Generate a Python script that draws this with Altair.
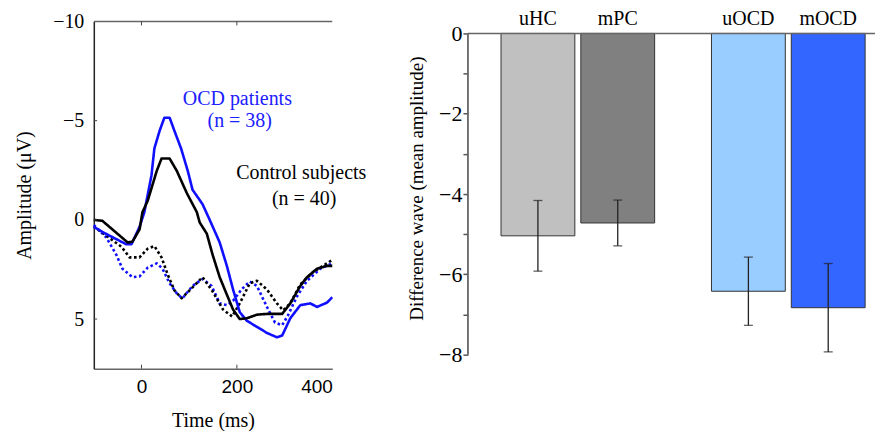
import altair as alt
import pandas as pd

# ---------------- Left panel: ERP waveforms ----------------
ocd_solid_t = [-100, -82, -32, -21, -4, 6, 21, 27, 38, 48, 59, 69, 83, 97, 107, 128, 143, 164, 179, 192, 206, 221, 242, 263, 284, 295, 312, 333, 354, 368, 389, 400]
ocd_solid_a = [0.35, 0.61, 1.23, 1.23, 0.35, -0.39, -2.25, -3.6, -4.49, -5.15, -5.15, -4.49, -3.6, -2.47, -1.52, -0.79, 0.0, 1.14, 2.32, 3.51, 4.65, 5.09, 5.39, 5.70, 5.92, 5.83, 4.96, 4.30, 4.21, 4.39, 4.17, 3.9]

hc_solid_t = [-100, -82, -29, -19, -4, 2, 13, 32, 42, 59, 74, 95, 116, 122, 137, 149, 164, 179, 192, 206, 221, 242, 263, 295, 312, 333, 347, 368, 389, 400]
hc_solid_a = [0.0, 0.05, 1.14, 1.1, 0.48, -0.39, -0.96, -2.47, -3.09, -3.09, -2.47, -1.35, -0.39, 0.13, 0.70, 1.75, 2.89, 3.77, 4.52, 5.0, 4.96, 4.78, 4.74, 4.74, 4.21, 3.33, 2.89, 2.46, 2.32, 2.32]

hc_dot_t = [-100, -74, -42, -25, -4, 13, 27, 42, 55, 69, 84, 101, 128, 149, 171, 190, 206, 227, 242, 263, 284, 297, 312, 333, 360, 389, 400]
hc_dot_a = [0.35, 0.79, 1.36, 1.89, 1.89, 1.45, 1.32, 1.89, 2.76, 3.55, 3.95, 3.55, 2.89, 3.6, 4.52, 4.87, 4.21, 3.2, 3.07, 3.51, 4.21, 4.56, 4.21, 3.25, 2.63, 2.19, 2.02]

ocd_dot_t = [-100, -74, -53, -40, -19, -4, 13, 32, 44, 59, 76, 86, 107, 128, 147, 164, 180, 192, 210, 227, 242, 263, 280, 295, 307, 326, 347, 375, 400]
ocd_dot_a = [0.26, 0.88, 1.75, 2.46, 2.89, 2.85, 2.41, 2.19, 2.46, 3.2, 3.77, 3.95, 3.33, 2.98, 3.33, 4.21, 4.3, 4.08, 3.5, 3.11, 3.33, 4.39, 5.18, 5.31, 4.82, 3.86, 3.07, 2.46, 2.19]

ann_text = ["OCD patients", "(n = 38)", "Control subjects", "(n = 40)"]
ann_t = [201, 206, 335, 341]
ann_a = [-6.1, -5.0, -2.36, -1.07]
ann_color = ["#2020ff", "#2020ff", "#000000", "#000000"]

x_ticks_left = [0, 200]
y_ticks_left = [-5, 0, 5]

BLUE = "#1010ff"
SERIF = "Liberation Serif"
SANS = "Liberation Sans"

x_scale = alt.Scale(domain=[-100, 400], nice=False, zero=False)
y_scale = alt.Scale(domain=[-10, 7.5], reverse=True, nice=False, zero=False)

x_bottom = alt.X("t:Q", scale=x_scale, axis=alt.Axis(
    orient="bottom", values=[0, 200, 400], labelFont=SANS, labelFontSize=19,
    labelColor="#000", ticks=False, grid=False, domainColor="#666", domainWidth=1.5,
    labelPadding=9, title="Time (ms)", titleFont=SERIF, titleFontSize=20,
    titleFontWeight="normal", titleColor="#000", titlePadding=14))
y_left = alt.Y("a:Q", scale=y_scale, axis=alt.Axis(
    orient="left", values=[-10, -5, 0, 5], labelFont=SERIF, labelFontSize=20,
    labelColor="#000", ticks=False, grid=False, domainColor="#222", domainWidth=1.5,
    labelPadding=10, title="Amplitude (\u03bcV)", titleFont=SERIF, titleFontSize=20,
    titleFontWeight="normal", titleColor="#000", titlePadding=18))


def line_layer(t, a, color, dash):
    df = pd.DataFrame({"t": t, "a": a})
    return alt.Chart(df).mark_line(color=color, strokeWidth=2.6, strokeDash=dash,
                                   strokeCap="butt", strokeJoin="round").encode(
        x=x_bottom, y=y_left)


l_ocd_dot = line_layer(ocd_dot_t, ocd_dot_a, BLUE, [2.6, 2.6])
l_hc_dot = line_layer(hc_dot_t, hc_dot_a, "#000", [2.6, 2.6])
l_ocd = line_layer(ocd_solid_t, ocd_solid_a, BLUE, [1, 0])
l_hc = line_layer(hc_solid_t, hc_solid_a, "#000", [1, 0])

ann_df = pd.DataFrame({"txt": ann_text, "t": ann_t, "a": ann_a, "c": ann_color})
ann = alt.Chart(ann_df).mark_text(font=SERIF, fontSize=20, align="center", baseline="middle").encode(
    x=alt.X("t:Q", scale=x_scale), y=alt.Y("a:Q", scale=y_scale),
    text="txt:N", color=alt.Color("c:N", scale=None))

# top border line of the left frame
top_line = alt.Chart(pd.DataFrame({"k": [0]})).mark_rule(color="#666", strokeWidth=1.5).encode(
    x=alt.datum(-100), x2=alt.datum(400), y=alt.datum(-10))
tick_df = pd.DataFrame({"t": x_ticks_left})
top_ticks = alt.Chart(tick_df).mark_rule(color="#444", strokeWidth=1).encode(
    x=alt.X("t:Q", scale=x_scale), y=alt.datum(-10), y2=alt.datum(-9.8))
bottom_ticks = alt.Chart(tick_df).mark_rule(color="#444", strokeWidth=1).encode(
    x=alt.X("t:Q", scale=x_scale), y=alt.datum(7.5), y2=alt.datum(7.3))
ytick_df = pd.DataFrame({"v": y_ticks_left})
left_ticks = alt.Chart(ytick_df).mark_rule(color="#444", strokeWidth=1).encode(
    y=alt.Y("v:Q", scale=y_scale), x=alt.datum(-100), x2=alt.datum(-93))

left = alt.layer(l_ocd_dot, l_hc_dot, l_ocd, l_hc, ann, top_line, top_ticks, bottom_ticks,
                 left_ticks).properties(width=239, height=348)

# ---------------- Right panel: bar chart ----------------
bar_labels = ["uHC", "mPC", "uOCD", "mOCD"]
bar_groups = ["Control", "Control", "OCD", "OCD"]
bar_med = ["u", "m", "u", "m"]
bar_means = [-5.04, -4.72, -6.42, -6.83]
bar_errs = [0.88, 0.57, 0.85, 1.1]
bar_colors = ["#c0c0c0", "#808080", "#99ccff", "#3366ff"]

bdf = pd.DataFrame({"label": bar_labels, "group": bar_groups, "med": bar_med,
                    "mean": bar_means, "err": bar_errs})
bdf["lo"] = bdf["mean"] - bdf["err"]
bdf["hi"] = bdf["mean"] + bdf["err"]

bx = alt.X("group:N", sort=["Control", "OCD"],
           scale=alt.Scale(paddingInner=0.27, paddingOuter=0.102, align=0.77), axis=None)
bxo = alt.XOffset("med:N", sort=["u", "m"], scale=alt.Scale(paddingInner=0.075, paddingOuter=0))
# a little headroom above 0 so that the left frame top sits higher than the zero line
by_scale = alt.Scale(domain=[-8, 0.298], nice=False, zero=False)
by = alt.Y("mean:Q", scale=by_scale, axis=alt.Axis(
    values=[-8, -7, -6, -5, -4, -3, -2, -1, 0],
    labelExpr="datum.value % 2 == 0 ? datum.label : ''",
    labelFont=SERIF, labelFontSize=22, labelColor="#000", labelPadding=1,
    tickSize=5, tickColor="#555", tickWidth=1.5, grid=False, domain=False,
    title="Difference wave (mean amplitude)", titleFont=SERIF, titleFontSize=19,
    titleFontWeight="normal", titleColor="#000", titlePadding=12))

zero_line = alt.Chart(pd.DataFrame({"k": [0]})).mark_rule(color="#666", strokeWidth=1.5).encode(
    y=alt.datum(0, scale=by_scale))
y_axis_line = alt.Chart(pd.DataFrame({"k": [0]})).mark_rule(color="#666", strokeWidth=1.8).encode(
    x=alt.value(0), y=alt.datum(-8), y2=alt.datum(0))

bars = alt.Chart(bdf).mark_bar(stroke="#333", strokeWidth=1).encode(
    x=bx, xOffset=bxo, y=by, y2=alt.datum(0),
    color=alt.Color("label:N", scale=alt.Scale(domain=bar_labels, range=bar_colors), legend=None))
err_rule = alt.Chart(bdf).mark_rule(color="#222", strokeWidth=1.3).encode(
    x=bx, xOffset=bxo, y=alt.Y("lo:Q", scale=by_scale), y2="hi:Q")
cap_lo = alt.Chart(bdf).mark_tick(color="#222", thickness=1.3, size=9).encode(
    x=bx, xOffset=bxo, y=alt.Y("lo:Q", scale=by_scale))
cap_hi = alt.Chart(bdf).mark_tick(color="#222", thickness=1.3, size=9).encode(
    x=bx, xOffset=bxo, y=alt.Y("hi:Q", scale=by_scale))
top_labels = alt.Chart(bdf).mark_text(font=SERIF, fontSize=20, baseline="middle", dy=-14, color="#000").encode(
    x=bx, xOffset=bxo, y=alt.datum(0), text="label:N")

right = alt.layer(bars, zero_line, y_axis_line, err_rule, cap_lo, cap_hi, top_labels).properties(
    width=408, height=334)

chart = alt.hconcat(left, right, spacing=40).configure_view(stroke=None).properties(
    padding={"left": 6, "top": 0, "right": 0, "bottom": 0}, background="white")

chart.save("out.html", embed_options={"renderer": "svg", "actions": False})
